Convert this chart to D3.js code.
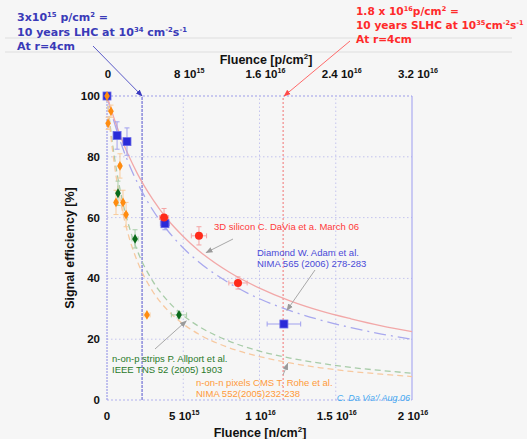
<!DOCTYPE html>
<html><head><meta charset="utf-8">
<script src="https://cdn.jsdelivr.net/npm/d3@7"></script>
<style>
html,body{margin:0;padding:0;background:#f6f6f6;}
svg{display:block;}
</style></head>
<body>
<script>
// ---- data (fluence in units of 1e15 n/cm^2, efficiency in %) ----
const xTicks = [0, 5, 10, 15, 20];
const xTickLabels = [["0",""],["5 10","15"],["1 10","16"],["1.5 10","16"],["2 10","16"]];
const topTicks = [0, 8, 16, 24, 32];           // 1e15 p/cm^2
const topTickLabels = [["0",""],["8 10","15"],["1.6 10","16"],["2.4 10","16"],["3.2 10","16"]];
const yTicks = [0, 20, 40, 60, 80, 100];

const redFluence = [3.74, 6.03, 8.59];
const redEff     = [60, 54, 38.5];
const redXErr    = [0.3, 0.5, 0.6];
const redYErr    = [3, 3, 2];

const blueFluence = [0, 0.66, 1.31, 3.8, 11.6];
const blueEff     = [100, 87, 85, 58, 25];
const blueXErr    = [0, 0, 0, 0.3, 1.1];
const blueYErr    = [0, 4.5, 4.5, 2, 0];

const orangeFluence = [0, 0.07, 0.26, 0.85, 0.59, 1.05, 1.25, 2.62];
const orangeEff     = [100, 91, 95, 77, 65, 65, 61, 28];
const orangeXErr    = [0, 0, 0, 0.1, 0.1, 0.1, 0.1, 0.2];
const orangeYErr    = [0, 2, 2, 4, 4, 4, 4, 0];

const greenFluence = [0.72, 1.84, 4.72];
const greenEff     = [68, 53, 28];
const greenXErr    = [0.1, 0.2, 0.5];
const greenYErr    = [4, 3, 1];

const curveFluence = [0,0.25,0.5,1,1.5,2,3,4,5,6,8,10,12,14,16,18,20];
const redFit    = [100,95.9,92.1,85.3,79.5,74.4,66.0,59.2,53.8,49.2,42.1,36.8,32.6,29.3,26.7,24.4,22.5];
const blueFit   = [100,95.2,90.9,83.3,76.9,71.4,62.5,55.6,50.0,45.5,38.5,33.3,29.4,26.3,23.8,21.7,20.0];
const greenFit  = [100,88.5,79.4,65.8,56.2,49.0,39.1,32.5,27.8,24.3,19.4,16.1,13.8,12.1,10.7,9.7,8.8];
const orangeFit = [100,87.0,76.9,62.5,52.6,45.5,35.7,29.4,25.0,21.7,17.2,14.3,12.2,10.6,9.4,8.5,7.7];

const lhcFluence = 2.3;    // marker line, n/cm^2 scale
const slhcFluence = 11.55;

// ---- setup ----
const W = 527, H = 439;
const m = {left:107, right:115, top:96, bottom:39};
const svg = d3.select("body").append("svg").attr("width", W).attr("height", H);
svg.append("rect").attr("width", W).attr("height", H).attr("fill", "#f6f6f6");

const x = d3.scaleLinear().domain([0, 20]).range([m.left, W - m.right]);
const xTop = d3.scaleLinear().domain([0, 32]).range([m.left, W - m.right]);
const y = d3.scaleLinear().domain([0, 100]).range([H - m.bottom, m.top]);

// faint background lines
[38, 52].forEach(v => svg.append("line").attr("x1", 5).attr("x2", 512).attr("y1", v).attr("y2", v)
  .attr("stroke", "#e6e6e6").attr("stroke-width", 1.5));

// grid
const grid = svg.append("g");
xTicks.slice(1, -1).forEach(t => grid.append("line").attr("x1", x(t)).attr("x2", x(t))
  .attr("y1", y(0)).attr("y2", y(100)).attr("stroke", "#c4c4ee").attr("stroke-dasharray", "1.5,2.5"));
yTicks.slice(1, -1).forEach(t => grid.append("line").attr("x1", x(0)).attr("x2", x(20))
  .attr("y1", y(t)).attr("y2", y(t)).attr("stroke", "#c4c4ee").attr("stroke-dasharray", "1.5,2.5"));
// frame
grid.append("line").attr("x1", x(0)).attr("x2", x(20)).attr("y1", y(100)).attr("y2", y(100))
  .attr("stroke", "#9c9ce8").attr("stroke-dasharray", "2,2");
grid.append("line").attr("x1", x(0)).attr("x2", x(20)).attr("y1", y(0)).attr("y2", y(0))
  .attr("stroke", "#b0b0ee").attr("stroke-dasharray", "2,2");
grid.append("line").attr("x1", x(20)).attr("x2", x(20)).attr("y1", y(0)).attr("y2", y(100))
  .attr("stroke", "#9c9cf0").attr("stroke-width", 1);
grid.append("line").attr("x1", x(0)).attr("x2", x(0)).attr("y1", y(0)).attr("y2", y(100))
  .attr("stroke", "#9c9ce8").attr("stroke-width", 1.2).attr("stroke-dasharray", "2,1");

// marker lines
svg.append("line").attr("x1", x(lhcFluence)).attr("x2", x(lhcFluence)).attr("y1", y(0)).attr("y2", y(100))
  .attr("stroke", "#7a7ad8").attr("stroke-width", 1.3).attr("stroke-dasharray", "3,1");
svg.append("line").attr("x1", x(slhcFluence)).attr("x2", x(slhcFluence)).attr("y1", y(0)).attr("y2", y(100))
  .attr("stroke", "#f28a8a").attr("stroke-width", 1.2).attr("stroke-dasharray", "2,2");

// fit curves
const line = d3.line().x(d => x(d[0])).y(d => y(d[1])).curve(d3.curveMonotoneX);
function curve(vals, color, dash, w) {
  svg.append("path").datum(curveFluence.map((f, i) => [f, vals[i]]))
    .attr("d", line).attr("fill", "none").attr("stroke", color)
    .attr("stroke-width", w).attr("stroke-dasharray", dash);
}
curve(greenFit, "#a8cca8", "6,4", 1.3);
curve(orangeFit, "#f7c9a0", "6,4", 1.3);
curve(blueFit, "#a8a8ee", "12,5,2,5", 1.3);
curve(redFit, "#f2a8a8", null, 1.3);

// error bars
function errBars(fx, fy, ex, ey, color) {
  const g = svg.append("g").attr("stroke", color).attr("stroke-width", 1);
  fx.forEach((f, i) => {
    if (ex[i] > 0) {
      g.append("line").attr("x1", x(f - ex[i])).attr("x2", x(f + ex[i])).attr("y1", y(fy[i])).attr("y2", y(fy[i]));
      [f - ex[i], f + ex[i]].forEach(v => g.append("line").attr("x1", x(v)).attr("x2", x(v))
        .attr("y1", y(fy[i]) - 2.5).attr("y2", y(fy[i]) + 2.5));
    }
    if (ey[i] > 0) {
      g.append("line").attr("x1", x(f)).attr("x2", x(f)).attr("y1", y(fy[i] - ey[i])).attr("y2", y(fy[i] + ey[i]));
      [fy[i] - ey[i], fy[i] + ey[i]].forEach(v => g.append("line").attr("x1", x(f) - 2.5).attr("x2", x(f) + 2.5)
        .attr("y1", y(v)).attr("y2", y(v)));
    }
  });
}
errBars(greenFluence, greenEff, greenXErr, greenYErr, "#a9cfa9");
errBars(orangeFluence, orangeEff, orangeXErr, orangeYErr, "#f9cc9c");
errBars(blueFluence, blueEff, blueXErr, blueYErr, "#a0a0ee");
errBars(redFluence, redEff, redXErr, redYErr, "#f4a4a4");

// markers
svg.append("g").selectAll("rect").data(blueFluence.map((f, i) => [f, blueEff[i]])).join("rect")
  .attr("x", d => x(d[0]) - 4).attr("y", d => y(d[1]) - 4).attr("width", 8).attr("height", 8)
  .attr("fill", "#2a2ad8").attr("stroke", "#6a6ae8").attr("stroke-width", 0.8);
svg.append("g").selectAll("circle").data(redFluence.map((f, i) => [f, redEff[i]])).join("circle")
  .attr("cx", d => x(d[0])).attr("cy", d => y(d[1])).attr("r", 4).attr("fill", "#ff2a1a");
const diamond = d3.symbol().type(d3.symbolDiamond).size(28);
svg.append("g").selectAll("path").data(greenFluence.map((f, i) => [f, greenEff[i]])).join("path")
  .attr("d", diamond).attr("transform", d => `translate(${x(d[0])},${y(d[1])})`).attr("fill", "#0a6a1a");
svg.append("g").selectAll("path").data(orangeFluence.map((f, i) => [f, orangeEff[i]])).join("path")
  .attr("d", diamond).attr("transform", d => `translate(${x(d[0])},${y(d[1])})`).attr("fill", "#ff8c10");

// ---- axes (text) ----
const axisFont = "Liberation Sans, Arial, sans-serif";
function supLabel(g, px, py, parts, size, anchor) {
  const t = g.append("text").attr("x", px).attr("y", py).attr("text-anchor", anchor || "middle")
    .attr("font-family", axisFont).attr("font-weight", "bold").attr("font-size", size).attr("fill", "#111");
  t.append("tspan").text(parts[0]);
  if (parts[1]) t.append("tspan").attr("dy", -5).attr("font-size", size * 0.62).text(parts[1]);
  return t;
}
const ax = svg.append("g");
xTicks.forEach((t, i) => supLabel(ax, x(t) + (i === 0 ? 0 : 1), 420, xTickLabels[i], 11.5));
topTicks.forEach((t, i) => supLabel(ax, xTop(t) + (i === 0 ? 1 : 6), 78, topTickLabels[i], 11.5));
yTicks.forEach(t => ax.append("text").attr("x", 100).attr("y", y(t) + 4).attr("text-anchor", "end")
  .attr("font-family", axisFont).attr("font-weight", "bold").attr("font-size", 11.5).attr("fill", "#111").text(t));

// titles
function title(px, py) {
  const t = ax.append("text").attr("x", px).attr("y", py).attr("text-anchor", "middle")
    .attr("font-family", axisFont).attr("font-weight", "bold").attr("font-size", 12.5).attr("fill", "#111");
  return t;
}
const bt = title(260, 437);
bt.append("tspan").text("Fluence [n/cm");
bt.append("tspan").attr("dy", -5).attr("font-size", 8).text("2");
bt.append("tspan").attr("dy", 5).text("]");
const tt = title(266, 64);
tt.append("tspan").text("Fluence [p/cm");
tt.append("tspan").attr("dy", -5).attr("font-size", 8).text("2");
tt.append("tspan").attr("dy", 5).text("]");
ax.append("text").attr("transform", `translate(74,${y(50)}) rotate(-90)`).attr("text-anchor", "middle")
  .attr("font-family", axisFont).attr("font-weight", "bold").attr("font-size", 12.5).attr("fill", "#111")
  .text("Signal efficiency [%]");

// ---- arrows ----
const defs = svg.append("defs");
function marker(id, color) {
  defs.append("marker").attr("id", id).attr("viewBox", "0 0 10 10").attr("refX", 9).attr("refY", 5)
    .attr("markerWidth", 7).attr("markerHeight", 7).attr("orient", "auto")
    .append("path").attr("d", "M0,1 L10,5 L0,9 z").attr("fill", color);
}
marker("ab", "#3a3ac0"); marker("ar", "#ff4a4a"); marker("ag", "#9a9a9a");
function arrow(x1, y1, x2, y2, color, id, w) {
  svg.append("line").attr("x1", x1).attr("y1", y1).attr("x2", x2).attr("y2", y2)
    .attr("stroke", color).attr("stroke-width", w || 1).attr("marker-end", `url(#${id})`);
}
arrow(93, 46, x(lhcFluence), y(100), "#5a5ac8", "ab");
arrow(350, 41, x(slhcFluence) + 1, y(100), "#ff6a6a", "ar");
arrow(233, 239, x(6.5), y(48.5), "#a8a8a8", "ag");
arrow(315, 270, x(11.8), y(29.5), "#a8a8a8", "ag");
arrow(155, 349, x(5.2), y(26), "#a8a8a8", "ag");
arrow(283, 375, x(11.85), y(12), "#a8a8a8", "ag");

// ---- annotations ----
const annFont = "DejaVu Sans, sans-serif";
// parts: [text, isSuperscript]
function multi(px, lines, color, size) {
  lines.forEach(([py, parts]) => {
    const t = svg.append("text").attr("x", px).attr("y", py).attr("font-family", annFont)
      .attr("font-size", size).attr("fill", color).attr("font-weight", 600);
    parts.forEach(([s, sup]) => {
      t.append("tspan").attr("font-size", sup ? size * 0.62 : size)
        .attr("baseline-shift", sup ? "super" : null).text(s);
    });
  });
}
multi(17, [
  [21, [["3x10"], ["15", true], [" p/cm"], ["2", true], [" ="]]],
  [36, [["10 years LHC at 10"], ["34", true], [" cm"], ["-2", true], ["s"], ["-1", true]]],
  [50, [["At r=4cm"]]]
], "#3a3ab8", 11);
multi(356, [
  [15, [["1.8 x 10"], ["16", true], ["p/cm"], ["2", true], [" ="]]],
  [29, [["10 years SLHC at 10"], ["35", true], ["cm"], ["-2", true], ["s"], ["-1", true]]],
  [43, [["At r=4cm"]]]
], "#ff2a2a", 10.6);

const smallFont = "Liberation Sans, Arial, sans-serif";
function note(px, py, lines, color, size, italic) {
  lines.forEach((l, i) => svg.append("text").attr("x", px).attr("y", py + i * 11).attr("font-family", smallFont)
    .attr("font-size", size).attr("fill", color).attr("font-style", italic ? "italic" : null).text(l));
}
note(214, 230, ["3D silicon C. DaVia et a. March 06"], "#ff3a3a", 9.5);
note(257, 256, ["Diamond W. Adam et al.", "NIMA 565 (2006) 278-283"], "#4a4ad8", 9.5);
note(112, 362, ["n-on-p strips P. Allport et al.", "IEEE TNS 52 (2005) 1903"], "#2a7a2a", 9.5);
note(196, 386, ["n-on-n pixels CMS T. Rohe et al.", "NIMA 552(2005)232-238"], "#ff9a3a", 9.5);
svg.append("text").attr("x", 410).attr("y", 401).attr("text-anchor", "end").attr("font-family", smallFont)
  .attr("font-size", 9).attr("font-style", "italic").attr("fill", "#44a8f0").text("C. Da Via'/ Aug.06");
</script>
</body></html>
